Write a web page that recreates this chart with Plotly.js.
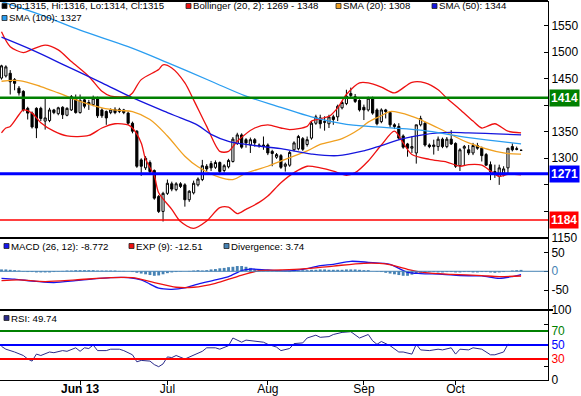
<!DOCTYPE html>
<html><head><meta charset="utf-8">
<script src="https://cdn.plot.ly/plotly-3.0.1.min.js"></script>
<style>html,body{margin:0;padding:0;background:#fff}#chart{width:581px;height:396px}</style>
</head><body><div id="chart"></div>
<script>
// ---- price candles (one per trading day, 8 May .. 22 Oct 2013) ----
const open=[1451,1455,1460,1448,1432,1426,1394,1385,1394,1394,1370,1371,1391,1384,1396,1381,1391,1413,1386,1410,1405,1401,1413,1391,1388,1386,1392,1388,1391,1385,1366,1351,1297,1282,1292,1277,1228,1200,1234,1252,1241,1252,1250,1222,1235,1250,1260,1285,1290,1283,1292,1277,1284,1294,1328,1344,1335,1325,1335,1325,1322,1325,1313,1302,1305,1285,1287,1316,1318,1337,1326,1338,1366,1376,1369,1365,1378,1378,1395,1403,1418,1416,1409,1396,1391,1413,1391,1369,1391,1386,1363,1360,1342,1327,1319,1310,1363,1366,1325,1322,1322,1336,1322,1336,1328,1286,1319,1316,1310,1324,1319,1307,1288,1275,1266,1272,1282,1322,1318,1315];
const high=[1476,1475,1466,1451,1436,1428,1397,1388,1396,1397,1413,1395,1393,1397,1398,1396,1419,1420,1420,1413,1410,1418,1416,1394,1390,1394,1396,1395,1393,1388,1369,1353,1300,1304,1296,1279,1231,1237,1260,1256,1255,1255,1253,1240,1258,1264,1297,1289,1295,1296,1294,1289,1299,1340,1348,1347,1338,1339,1338,1328,1341,1328,1316,1310,1308,1292,1314,1332,1344,1340,1341,1370,1382,1382,1379,1382,1382,1401,1408,1429,1433,1421,1411,1401,1416,1416,1394,1394,1393,1389,1366,1366,1345,1329,1341,1363,1380,1369,1328,1335,1341,1339,1340,1353,1330,1319,1325,1325,1329,1329,1322,1310,1294,1288,1288,1285,1319,1328,1322,1316];
const low=[1448,1452,1420,1428,1418,1388,1373,1356,1338,1370,1354,1368,1383,1381,1374,1379,1389,1384,1384,1394,1391,1398,1376,1376,1363,1383,1383,1385,1383,1363,1347,1282,1267,1278,1270,1222,1197,1181,1231,1238,1238,1244,1209,1218,1232,1247,1257,1276,1276,1280,1272,1273,1281,1292,1325,1318,1320,1310,1322,1320,1316,1306,1285,1299,1280,1275,1284,1313,1315,1314,1322,1335,1363,1356,1352,1357,1363,1370,1392,1400,1414,1404,1388,1372,1388,1382,1362,1366,1375,1358,1355,1335,1318,1303,1310,1290,1360,1322,1319,1307,1314,1319,1319,1325,1282,1276,1287,1306,1306,1316,1294,1286,1259,1263,1250,1266,1272,1313,1315,1314];
const close=[1474,1472,1444,1441,1423,1391,1385,1359,1357,1375,1376,1391,1386,1395,1382,1394,1416,1386,1409,1398,1402,1413,1380,1380,1376,1391,1386,1392,1386,1366,1351,1285,1285,1300,1275,1225,1200,1234,1253,1242,1252,1247,1222,1238,1253,1261,1286,1280,1282,1292,1275,1286,1296,1336,1344,1321,1329,1335,1329,1324,1325,1310,1309,1307,1283,1289,1311,1329,1341,1317,1335,1366,1378,1365,1368,1378,1373,1398,1405,1417,1422,1407,1391,1391,1413,1385,1365,1391,1388,1363,1360,1338,1321,1319,1322,1363,1375,1325,1322,1325,1336,1322,1336,1327,1285,1316,1322,1310,1324,1319,1305,1287,1275,1272,1282,1280,1319,1316,1317,1315];

// ---- overlays (day index, value) ----
const bbUpX=[0,2,5,7,10,13,16,20,23,25,29,30,32,36,37,39,42,44,47,50,52,54,58,61,64,66,70,71,75,77,79,82,84,87,90,94,97,100,102,105,108,110,113,116,119];
const bbUpY=[1538,1510,1499,1505,1513,1504,1482,1454,1426,1417,1417,1423,1448,1467,1476,1470,1442,1410,1360,1313,1313,1332,1357,1363,1357,1354,1360,1370,1379,1395,1420,1442,1442,1434,1423,1443,1442,1429,1413,1392,1370,1357,1365,1351,1348];
const bbLoX=[0,1,2,4,5,7,9,12,15,20,23,26,29,30,32,33,35,36,39,41,44,47,50,52,54,56,59,61,64,67,70,73,76,79,81,84,87,90,92,94,98,102,105,107,110,112,114,116,119];
const bbLoY=[1348,1357,1360,1382,1391,1385,1367,1351,1342,1343,1357,1365,1363,1357,1329,1298,1267,1235,1204,1181,1168,1182,1207,1208,1196,1204,1217,1229,1254,1273,1285,1282,1276,1268,1273,1295,1325,1351,1329,1307,1298,1293,1285,1288,1287,1276,1266,1270,1269];
const sma20X=[0,4,9,13,18,23,27,30,34,38,42,45,50,53,56,61,65,70,73,78,82,84,87,89,94,100,107,115,119];
const sma20Y=[1445,1446,1435,1423,1407,1395,1390,1388,1373,1342,1304,1284,1264,1260,1272,1285,1298,1314,1326,1337,1355,1368,1380,1388,1379,1357,1329,1310,1308];
const sma50X=[0,7,15,23,30,38,41,45,48,52,56,64,71,77,83,87,92,100,107,119];
const sma50Y=[1528,1504,1473,1442,1414,1386,1376,1362,1345,1332,1326,1318,1308,1305,1314,1324,1337,1348,1348,1344];
const sma100X=[0,9,18,29,38,48,56,64,71,79,84,96,107,119];
const sma100Y=[1595,1570,1541,1510,1480,1445,1417,1396,1378,1364,1360,1353,1339,1327];

// ---- MACD panel ----
const macdX=[0,3,8,12,17,21,25,29,32,34,36,39,42,45,49,52,55,57,61,66,69,73,76,80,84,89,91,93,96,101,105,110,114,117,119];
const macdY=[-18.6,-21,-27,-30,-25,-20.4,-17,-17,-23,-34,-45,-48,-44,-34,-23,-14,2,6,3.5,1,5,15,18.6,26.6,24,18.6,8,-2.7,-6,-8,-11.5,-12.4,-18.6,-14,-8.772];
const expX=[0,4,10,17,25,30,35,40,44,49,54,59,64,69,76,83,88,93,97,103,110,114,119];
const expY=[-24.8,-23,-27.4,-23,-16.8,-16.8,-30,-42.5,-42.5,-32,-14,1.8,3.5,6.2,14,21.2,19.5,5.3,-3.5,-8,-11.5,-14,-12.51];
const divergence=[5,5,4,3,2,-1,-2,-2,-3,-3,-3,-3,-2,-1,1,2,2,3,3,3,3,3,2,2,2,2,2,1,1,0,-2,-4,-6,-8,-10,-12,-11,-8,-5,-3,-2,-1,0,1,2,3,2,3,5,6,8,9,11,12,14,14,12,9,6,4,3,2,1,1,0,-1,-2,1,2,3,3,4,4,5,5,4,4,4,4,5,5,5,4,3,3,0,-1,-2,-4,-6,-8,-10,-12,-12,-9,-6,-4,-3,-2,-2,-3,-3,-2,-2,-3,-3,-2,-2,-3,-3,-2,-2,-3,-4,-3,-2,0,2,3,3.74];

// ---- RSI panel ----
const rsiX=[0,1,3,5,6,7,8,9,11,12,14,15,17,18,19,20,21,22,24,25,27,28,30,31,32,34,35,36,37,38,39,40,42,44,46,47,49,50,52,53,55,56,58,60,61,63,64,66,67,69,70,72,73,75,76,78,80,81,82,84,85,86,87,89,91,92,94,95,96,98,100,101,103,104,105,107,108,110,112,113,115,116,117,119];
const rsiY=[48,44,40,35,30,27,37,35,40,39,42,41,46,41,46,45,50,42,42,44,44,42,36,26,28,27,22,19,23,33,32,35,30,36,41,46,46,44,49,60,54,57,56,54,51,47,42,45,52,53,60,64,61,62,65,68,69,64,60,65,56,51,55,49,40,40,37,51,43,42,44,43,46,37,44,43,46,44,36,36,40,51,50,49.74];

// ---- axis labels / levels ----
const monthDay=[18,38,61,83,104];
const monthLabels=['<b>Jun 13</b>','Jul','Aug','Sep','Oct'];
const priceTicks=[1150,1200,1250,1300,1350,1400,1450,1500,1550];
const priceTickText=['1150','','','1300','1350','','1450','1500','1550'];
const levels=[1414,1271,1184];
const levelColors=['#008000','#0000ff','#ff0000'];
const rsiTicks=[0,20,30,50,70,80,100];
const rsiTickText=['0','','<span style="color:#ff0000">30</span>','<span style="color:#0000ff">50</span>','<span style="color:#008000">70</span>','','100'];

const FONT='Liberation Sans, Arial, sans-serif';
const W=548, H=379;
const px=x=>x/W, py=y=>(380-y)/H;
const last=a=>a[a.length-1];

const C_BB='#ee1111', C_S20='#f0a020', C_S50='#1515dd', C_S100='#2a9df0', C_DIV='#4682b4', C_RSI='#2a2a8a';

const traces=[
 {type:'candlestick',open:open,high:high,low:low,close:close,xaxis:'x',yaxis:'y',
  increasing:{line:{color:'#000',width:1},fillcolor:'#ffffff'},
  decreasing:{line:{color:'#000',width:1},fillcolor:'#000000'},
  whiskerwidth:0,hoverinfo:'skip'},
 {type:'scatter',mode:'lines',x:bbUpX,y:bbUpY,line:{color:C_BB,width:1.3,shape:'spline',smoothing:0.8},yaxis:'y',hoverinfo:'skip'},
 {type:'scatter',mode:'lines',x:bbLoX,y:bbLoY,line:{color:C_BB,width:1.3,shape:'spline',smoothing:0.8},yaxis:'y',hoverinfo:'skip'},
 {type:'scatter',mode:'lines',x:sma20X,y:sma20Y,line:{color:C_S20,width:1.3,shape:'spline'},yaxis:'y',hoverinfo:'skip'},
 {type:'scatter',mode:'lines',x:sma50X,y:sma50Y,line:{color:C_S50,width:1.3,shape:'spline'},yaxis:'y',hoverinfo:'skip'},
 {type:'scatter',mode:'lines',x:sma100X,y:sma100Y,line:{color:C_S100,width:1.3,shape:'spline'},yaxis:'y',hoverinfo:'skip'},
 {type:'bar',y:divergence,width:0.65,marker:{color:C_DIV,line:{width:0}},xaxis:'x',yaxis:'y2',hoverinfo:'skip'},
 {type:'scatter',mode:'lines',x:macdX,y:macdY,line:{color:'#1515ee',width:1.3,shape:'spline',smoothing:0.8},yaxis:'y2',hoverinfo:'skip'},
 {type:'scatter',mode:'lines',x:expX,y:expY,line:{color:'#ee1111',width:1.3,shape:'spline',smoothing:0.8},yaxis:'y2',hoverinfo:'skip'},
 {type:'scatter',mode:'lines',x:rsiX,y:rsiY,line:{color:C_RSI,width:1},yaxis:'y3',hoverinfo:'skip'}
];

const shapes=[];
levels.forEach((v,k)=>shapes.push({type:'line',xref:'paper',x0:0,x1:1,yref:'y',y0:v,y1:v,line:{color:levelColors[k],width:[2.5,3,1.5][k]}}));
shapes.push({type:'line',xref:'paper',x0:0,x1:1,yref:'y2',y0:0,y1:0,line:{color:C_DIV,width:1}});
[[70,'#008000'],[50,'#0000ff'],[30,'#ff0000']].forEach(a=>shapes.push({type:'line',xref:'paper',x0:0,x1:1,yref:'y3',y0:a[0],y1:a[0],line:{color:a[1],width:2}}));
shapes.push({type:'line',xref:'paper',yref:'paper',x0:0,x1:1,y0:py(1),y1:py(1),line:{color:'#000',width:2}});
shapes.push({type:'line',xref:'paper',yref:'paper',x0:0,x1:1,y0:py(238),y1:py(238),line:{color:'#000',width:2}});
shapes.push({type:'line',xref:'paper',yref:'paper',x0:0,x1:px(553),y0:py(310),y1:py(310),line:{color:'#000',width:2}});

const legendItems=[
 ['#000000',2,6,'Op:'+last(open)+', Hi:'+last(high)+', Lo:'+last(low)+', Cl:'+last(close)],
 [C_BB,186,6,'Bollinger (20, 2): '+last(bbLoY)+' - '+last(bbUpY)],
 [C_S20,336,6,'SMA (20): '+last(sma20Y)],
 [C_S50,432,6,'SMA (50): '+last(sma50Y)],
 [C_S100,2,18,'SMA (100): '+last(sma100Y)],
 ['#1515ee',4,246,'MACD (26, 12): '+last(macdY)],
 ['#ee1111',129,246,'EXP (9): '+last(expY)],
 [C_DIV,224,246,'Divergence: '+last(divergence)],
 [C_RSI,4,318,'RSI: '+last(rsiY)]
];
const annotations=[];
legendItems.forEach(it=>{
  shapes.push({type:'rect',xref:'paper',yref:'paper',x0:px(it[1]),x1:px(it[1]+5),y0:py(it[2]-2.5),y1:py(it[2]+2.5),fillcolor:it[0],line:{color:'#222',width:0.8}});
  annotations.push({xref:'paper',yref:'paper',x:px(it[1]+6),y:py(it[2]),xanchor:'left',yanchor:'middle',showarrow:false,text:it[3],font:{family:FONT,size:9.7,color:'#000'},borderpad:0});
});
levels.forEach((v,k)=>annotations.push({xref:'paper',yref:'y',x:1,y:v,xanchor:'left',yanchor:'middle',xshift:1,showarrow:false,
  text:'<b>'+v+'</b>',bgcolor:levelColors[k],borderpad:1,font:{family:FONT,size:12,color:'#ffffff'}}));

const yBase={side:'right',anchor:'x',showgrid:false,zeroline:false,showline:true,linecolor:'#000',linewidth:1,
  ticks:'inside',ticklen:4,tickcolor:'#000',tickfont:{family:FONT,size:12,color:'#000'},fixedrange:true};

const layout={
 width:581,height:396,margin:{l:0,r:33,t:1,b:16},paper_bgcolor:'#fff',plot_bgcolor:'#fff',showlegend:false,
 boxgap:0.3,bargap:0.3,
 xaxis:{range:[-0.344,125.17],anchor:'y3',showgrid:false,zeroline:false,showline:true,linecolor:'#000',linewidth:1,
   ticks:'outside',ticklen:4,tickcolor:'#000',tickmode:'array',tickvals:monthDay,ticktext:monthLabels,ticklabelstandoff:-6,
   tickfont:{family:FONT,size:12,color:'#000'},rangeslider:{visible:false},fixedrange:true},
 yaxis:Object.assign({},yBase,{domain:[py(238),1],range:[1150,1596],tickmode:'array',tickvals:priceTicks,ticktext:priceTickText}),
 yaxis2:Object.assign({},yBase,{domain:[py(310),py(238)],range:[-103,88.6],tickmode:'array',tickvals:[-50,0,50],
   ticktext:['-50','<span style="color:#4682b4">0</span>','50']}),
 yaxis3:Object.assign({},yBase,{domain:[0,py(310)],range:[0,100],tickmode:'array',tickvals:rsiTicks,ticktext:rsiTickText}),
 shapes:shapes,annotations:annotations
};
Plotly.newPlot('chart',traces,layout,{displayModeBar:false,staticPlot:true});
</script></body></html>
